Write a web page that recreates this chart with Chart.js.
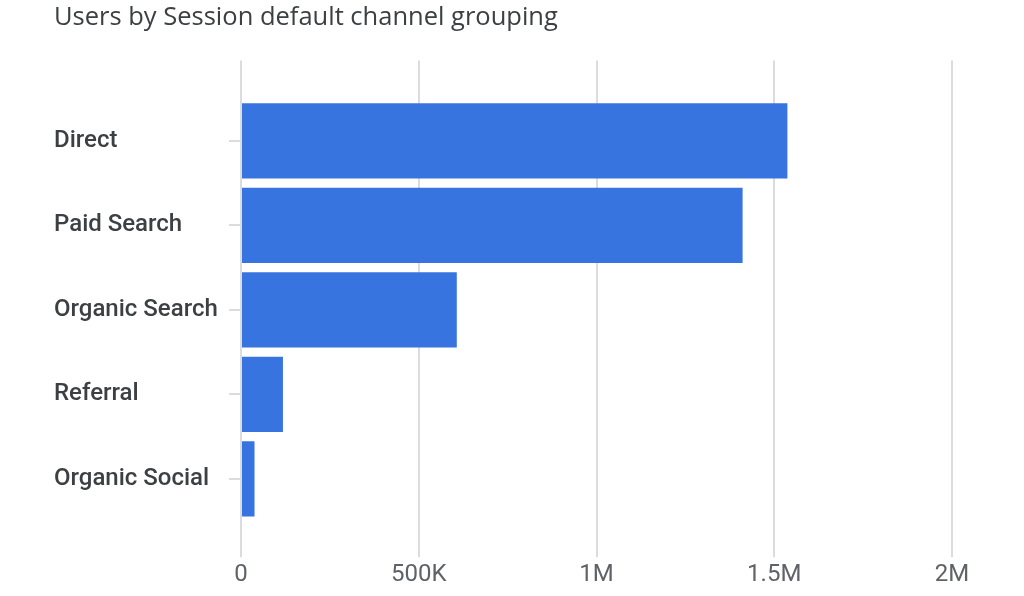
<!DOCTYPE html>
<html lang="en">
<head>
    <meta charset="UTF-8">
    <title>Users by Session default channel grouping</title>
    <script src="https://cdn.jsdelivr.net/npm/chart.js"></script>
    <style>
        body {
            margin: 0;
            padding: 0;
            background-color: #ffffff;
        }
        .chart-container {
            position: relative;
            width: 1024px;
            height: 596px;
        }
    </style>
</head>
<body>
    <div class="chart-container">
        <canvas id="usersChart"></canvas>
    </div>

    <script>
        const channels = ["Direct", "Paid Search", "Organic Search", "Referral", "Organic Social"];
        const users = [1537000, 1411000, 607000, 118000, 38000];
        const xTicks = [0, 500000, 1000000, 1500000, 2000000];
        const xTickLabels = ["0", "500K", "1M", "1.5M", "2M"];

        const gridColor = "#dadce0";
        const fontFamily = "Roboto, 'Noto Sans', sans-serif";

        function formatTick(value) {
            const i = xTicks.indexOf(value);
            return i >= 0 ? xTickLabels[i] : "";
        }

        const ctx = document.getElementById("usersChart").getContext("2d");
        new Chart(ctx, {
            type: 'bar',
            data: {
                labels: channels,
                datasets: [{
                    label: 'Users',
                    data: users,
                    backgroundColor: '#3874e0',
                    borderWidth: 0,
                    categoryPercentage: 1,
                    barPercentage: 0.89
                }]
            },
            options: {
                indexAxis: 'y',
                responsive: true,
                maintainAspectRatio: false,
                animation: false,
                layout: {
                    padding: { left: 54, right: 72, top: 0, bottom: 4 }
                },
                plugins: {
                    legend: { display: false },
                    tooltip: { enabled: false },
                    title: {
                        display: true,
                        text: 'Users by Session default channel grouping',
                        align: 'start',
                        color: '#3c4043',
                        font: { family: "'Open Sans', Roboto, sans-serif", size: 25.5, weight: 'normal', lineHeight: 1.2 },
                        padding: { top: 2, bottom: 28 }
                    }
                },
                scales: {
                    x: {
                        type: 'linear',
                        position: 'bottom',
                        min: 0,
                        max: 2000000,
                        border: { display: false },
                        grid: { color: gridColor, lineWidth: 2, tickLength: 36 },
                        ticks: {
                            stepSize: 500000,
                            padding: 3,
                            color: '#5f6368',
                            font: { family: fontFamily, size: 24 },
                            callback: (v) => formatTick(v)
                        }
                    },
                    // top axis only extends the grid lines above the bars
                    x2: {
                        type: 'linear',
                        position: 'top',
                        min: 0,
                        max: 2000000,
                        border: { display: false },
                        grid: { color: gridColor, lineWidth: 2, tickLength: 38, drawOnChartArea: false },
                        ticks: { display: false, stepSize: 500000 }
                    },
                    y: {
                        border: { display: false },
                        grid: { color: gridColor, lineWidth: 2, tickLength: 12, drawOnChartArea: false, offset: false },
                        ticks: {
                            crossAlign: 'far',
                            color: '#3c4043',
                            font: { family: fontFamily, size: 24, weight: '500' }
                        },
                        afterFit: (scale) => { scale.width = 187; }
                    }
                }
            }
        });
    </script>
</body>
</html>
